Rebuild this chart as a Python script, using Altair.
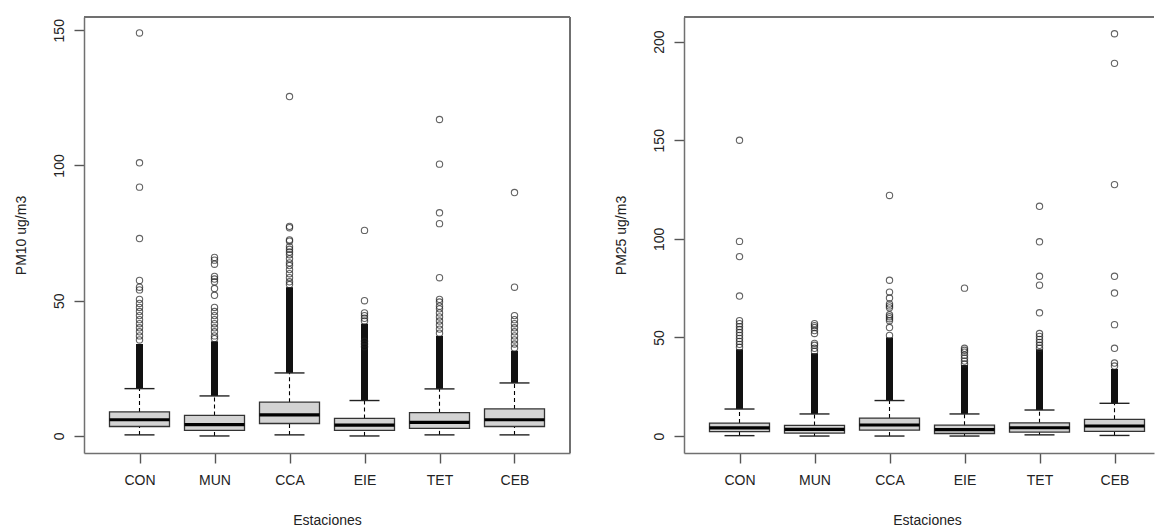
import altair as alt
import pandas as pd

# ---------------- data ----------------
stations = ["CON", "MUN", "CCA", "EIE", "TET", "CEB"]
positions = [1, 2, 3, 4, 5, 6]

# PM10
pm10_q1 = [3.5, 2.1, 4.6, 2.1, 2.8, 3.5]
pm10_med = [6.0, 4.2, 7.8, 4.0, 5.0, 6.0]
pm10_q3 = [8.9, 7.6, 12.5, 6.5, 8.6, 10.0]
pm10_wlo = [0.4, 0.0, 0.4, 0.0, 0.4, 0.4]
pm10_whi = [17.5, 14.8, 23.3, 13.1, 17.4, 19.6]
pm10_dense_top = [34.0, 35.0, 55.0, 41.5, 37.0, 31.5]
pm10_out_CON = [149, 101, 92, 73, 57.5, 55, 54, 50.5, 49, 47.5, 46, 44.5, 43, 41.5, 40, 38.5, 37, 35.5]
pm10_out_MUN = [66, 65, 63.5, 59, 58, 57, 54.5, 52, 47.5, 46, 44.5, 43, 41.5, 40, 38.5, 37, 36]
pm10_out_CCA = [125.5, 77.5, 77, 72.5, 72, 70, 69, 68, 67, 65.5, 64, 63, 61.5, 60, 58.5, 57, 56]
pm10_out_EIE = [76, 50, 45.5, 44.5, 43.5, 42.5, 35, 34, 33]
pm10_out_TET = [117, 100.5, 82.5, 78.5, 58.5, 50.5, 49.5, 48, 47, 45.5, 44, 42.5, 41, 39.5, 38]
pm10_out_CEB = [90, 55, 44.5, 43, 41.5, 40, 38.5, 37, 35.5, 34, 32.5]

# PM25
pm25_q1 = [2.2, 1.5, 3.0, 1.3, 2.0, 2.4]
pm25_med = [4.1, 3.4, 5.6, 3.3, 4.2, 5.1]
pm25_q3 = [6.6, 5.4, 9.1, 5.5, 6.7, 8.5]
pm25_wlo = [0.2, 0.0, 0.0, 0.0, 0.6, 0.3]
pm25_whi = [13.7, 11.2, 18.0, 11.2, 13.2, 16.6]
pm25_dense_top = [44.0, 42.0, 50.0, 36.0, 44.0, 34.0]
pm25_out_CON = [150, 98.7, 91, 71, 58.5, 57, 55.5, 54, 52.5, 51, 49.5, 48, 46.5, 45]
pm25_out_MUN = [57, 56, 55, 53.5, 52, 47, 46, 44.5, 43]
pm25_out_CCA = [122, 79, 73, 70, 67, 66, 65, 61.5, 60.5, 59.5, 58.5, 55, 51]
pm25_out_EIE = [75, 44.5, 43.5, 42.5, 41, 39.5, 38, 36.5]
pm25_out_TET = [116.5, 98.5, 81, 76.5, 62.5, 52, 50.5, 49, 47.5, 46, 44.5]
pm25_out_CEB = [204, 189, 127.5, 81, 72.5, 56.5, 44.5, 37, 35.5]

pm10_outliers = [pm10_out_CON, pm10_out_MUN, pm10_out_CCA, pm10_out_EIE, pm10_out_TET, pm10_out_CEB]
pm25_outliers = [pm25_out_CON, pm25_out_MUN, pm25_out_CCA, pm25_out_EIE, pm25_out_TET, pm25_out_CEB]

# ---------------- styling ----------------
FONT = "Liberation Sans"
FRAME = "#707070"
TEXT = "#222222"
PLOT_H = 436
BOX_HALF = 0.4
CAP_HALF = 0.2

label_expr = "[" + ",".join("'%s'" % s for s in [""] + stations) + "][datum.value]"


def panel(q1, med, q3, wlo, whi, dense_top, outliers, ytitle, ydomain, yvalues,
          width, xmax, title_x, right_border):
    stats = pd.DataFrame({
        "station": stations, "pos": positions, "q1": q1, "med": med, "q3": q3,
        "wlo": wlo, "whi": whi, "dtop": dense_top,
    })
    stats["xlo"] = stats["pos"] - BOX_HALF
    stats["xhi"] = stats["pos"] + BOX_HALF
    stats["clo"] = stats["pos"] - CAP_HALF
    stats["chi"] = stats["pos"] + CAP_HALF
    rows = []
    for p, vals in zip(positions, outliers):
        for v in vals:
            rows.append({"pos": p, "value": v})
    out = pd.DataFrame(rows)

    xscale = alt.Scale(domain=[0.26, xmax], nice=False, zero=False)
    yscale = alt.Scale(domain=ydomain, nice=False, zero=False)
    xaxis = alt.Axis(values=positions, labelExpr=label_expr, title="Estaciones",
                     titleX=title_x, titleY=67, titleBaseline="middle",
                     titleAlign="center", labelPadding=10)
    yaxis = alt.Axis(values=yvalues, title=ytitle, labelAngle=270, labelAlign="center",
                     labelBaseline="bottom", labelPadding=8, titleX=-63,
                     titleY=PLOT_H / 2, titleBaseline="middle", titleAlign="center",
                     titleAngle=270)

    def X(f):
        return alt.X(f, type="quantitative", scale=xscale, axis=xaxis)

    def Y(f):
        return alt.Y(f, type="quantitative", scale=yscale, axis=yaxis)

    base = alt.Chart(stats)
    w_up = base.mark_rule(color="black", strokeWidth=1.1, strokeDash=[4, 3]).encode(
        x=X("pos"), y=Y("q3"), y2="whi")
    w_lo = base.mark_rule(color="black", strokeWidth=1.1, strokeDash=[4, 3]).encode(
        x=X("pos"), y=Y("wlo"), y2="q1")
    dense = base.mark_rule(color="#111111", strokeWidth=7).encode(
        x=X("pos"), y=Y("whi"), y2="dtop")
    box = base.mark_rect(fill="#d3d3d3", stroke="#333333", strokeWidth=1.3).encode(
        x=X("xlo"), x2="xhi", y=Y("q1"), y2="q3")
    median = base.mark_rule(color="black", strokeWidth=3.2).encode(
        x=X("xlo"), x2="xhi", y=Y("med"))
    cap_hi = base.mark_rule(color="#222222", strokeWidth=1.4).encode(
        x=X("clo"), x2="chi", y=Y("whi"))
    cap_lo = base.mark_rule(color="#222222", strokeWidth=1.4).encode(
        x=X("clo"), x2="chi", y=Y("wlo"))
    pts = alt.Chart(out).mark_point(shape="circle", filled=False, size=40,
                                    strokeWidth=1.1, color="#222222").encode(
        x=X("pos"), y=Y("value"))
    top = alt.Chart(stats).mark_rule(color=FRAME, strokeWidth=1.5).encode(
        x=alt.value(0), x2=alt.value(width), y=alt.value(0))
    layers = [w_up, w_lo, dense, box, median, cap_hi, cap_lo, pts, top]
    if right_border:
        right = alt.Chart(stats).mark_rule(color=FRAME, strokeWidth=1.5).encode(
            x=alt.value(width), y=alt.value(0), y2=alt.value(PLOT_H))
        layers.append(right)
    return alt.layer(*layers).properties(width=width, height=PLOT_H)


left = panel(pm10_q1, pm10_med, pm10_q3, pm10_wlo, pm10_whi, pm10_dense_top,
             pm10_outliers, "PM10 ug/m3", [-6.3, 154.9], [0, 50, 100, 150],
             486, 6.74, 243, True)
right = panel(pm25_q1, pm25_med, pm25_q3, pm25_wlo, pm25_whi, pm25_dense_top,
              pm25_outliers, "PM25 ug/m3", [-8.6, 212.5], [0, 50, 100, 150, 200],
              470, 0.26 + 470 / 75.0, 243, False)

chart = alt.hconcat(left, right, spacing=114, bounds="flush").properties(
    padding={"left": 13, "top": 15, "right": 0, "bottom": 0},
    background="white",
).configure_view(stroke="transparent").configure_axis(
    grid=False,
    domain=True, domainColor=FRAME, domainWidth=1.5,
    ticks=True, tickColor="#555555", tickSize=10, tickWidth=1.4,
    labelFont=FONT, labelFontSize=14, labelColor=TEXT, labelFlush=False,
    labelOverlap=False,
    titleFont=FONT, titleFontSize=14, titleFontWeight="normal", titleColor=TEXT,
)

chart.save("out.html", embed_options={"renderer": "svg", "actions": False})
